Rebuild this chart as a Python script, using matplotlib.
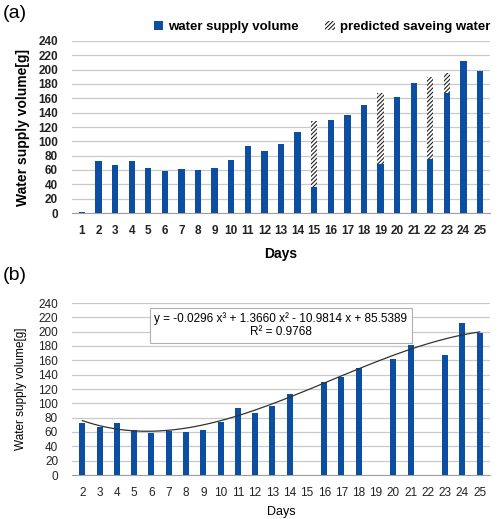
import numpy as np
import matplotlib.pyplot as plt
from matplotlib.patches import Patch

plt.rcParams["font.family"] = ["Liberation Sans", "DejaVu Sans"]

days = list(range(1, 26))
supply = [2, 73, 67, 73, 63, 58, 61, 60, 63, 74, 93, 87, 96, 113, 36,
          130, 137, 150, 69, 162, 181, 75, 167, 212, 198]
predicted = {15: 128, 19: 167, 22: 190, 23: 196}

# panel (b): days 2..25, without the days with predicted saving
days_b = list(range(2, 26))
supply_b = [73, 67, 73, 63, 58, 61, 60, 63, 74, 93, 87, 96, 113, None,
            130, 137, 150, None, 162, 181, None, 167, 212, 198]
coef = [-0.0296, 1.3660, -10.9814, 85.5389]
eq_text = "y = -0.0296 x³ + 1.3660 x² - 10.9814 x + 85.5389\nR² = 0.9768"

blue = "#0b4ea2"
grid_c = "#c9c9c9"
hatch = "////////"
plt.rcParams["hatch.linewidth"] = 0.8

fig = plt.figure(figsize=(5.0, 5.19), dpi=100)
W, H = 500, 519


def px_axes(l, t, r, b):
    return fig.add_axes([l / W, 1 - b / H, (r - l) / W, (b - t) / H])


def style(ax, bold, size):
    ax.set_ylim(0, 240)
    ax.set_yticks(range(0, 241, 20))
    ax.grid(axis="y", color=grid_c, lw=0.9)
    ax.set_axisbelow(True)
    for s in ["top", "right", "left"]:
        ax.spines[s].set_visible(False)
    ax.spines["bottom"].set_color("#a0a0a0")
    ax.tick_params(length=0, labelsize=size, colors="#222222")
    ax.tick_params(axis="y", pad=10)
    ax.tick_params(axis="x", pad=9)
    w = "bold" if bold else "normal"
    for lab in ax.get_xticklabels() + ax.get_yticklabels():
        lab.set_fontweight(w)


# ---- (a)
ax1 = px_axes(72, 41, 490, 213)
x = np.arange(len(days))
ax1.bar(x, supply, width=0.38, color=blue, zorder=3)
pidx = [days.index(d) for d in predicted]
pbot = [supply[i] for i in pidx]
ph = [predicted[d] - supply[days.index(d)] for d in predicted]
ax1.bar(pidx, ph, bottom=pbot, width=0.38, color="white", edgecolor="#222222",
        hatch=hatch, lw=0, zorder=3)
ax1.set_xlim(-0.6, len(days) - 0.4)
ax1.set_xticks(x)
ax1.set_xticklabels(days)
style(ax1, True, 8.5)
ax1.set_xlabel("Days", fontsize=10, fontweight="bold", labelpad=7)
ax1.set_ylabel("Water supply volume[g]", fontsize=10, fontweight="bold", labelpad=6)
fig.text(3 / W, 1 - 13 / H, "(a)", fontsize=14, va="center")

h1 = Patch(facecolor=blue, label="water supply volume")
h2 = Patch(facecolor="white", edgecolor="#222222", hatch=hatch, lw=0,
           label="predicted saveing water")
leg = fig.legend(handles=[h1, h2], loc="center", bbox_to_anchor=(322 / W, 1 - 27 / H),
                 ncol=2, frameon=False, fontsize=9.5, handlelength=0.7, handleheight=0.7,
                 handletextpad=0.4, columnspacing=2.0)
for t in leg.get_texts():
    t.set_fontweight("bold")

# ---- (b)
ax2 = px_axes(72, 303, 490, 475)
xb = np.arange(len(days_b))
vals = [v if v is not None else 0 for v in supply_b]
ax2.bar(xb, vals, width=0.35, color=blue, zorder=3)
xs = np.linspace(0, len(days_b) - 1, 200)
ax2.plot(xs, np.polyval(coef, xs + 1), color="#333333", lw=0.9, zorder=4)
ax2.set_xlim(-0.6, len(days_b) - 0.4)
ax2.set_xticks(xb)
ax2.set_xticklabels(days_b)
style(ax2, False, 8.5)
ax2.set_xlabel("Days", fontsize=9, labelpad=5)
ax2.set_ylabel("Water supply volume[g]", fontsize=8.5, labelpad=8)
ax2.text(0.5, 0.87, eq_text, transform=ax2.transAxes, ha="center", va="center",
         fontsize=8.5, linespacing=1.1, zorder=5,
         bbox=dict(boxstyle="square,pad=0.4", fc="white", ec="#b0b0b0", lw=0.8))
fig.text(3 / W, 1 - 275 / H, "(b)", fontsize=14, va="center")

fig.savefig("out.png", dpi=100)
